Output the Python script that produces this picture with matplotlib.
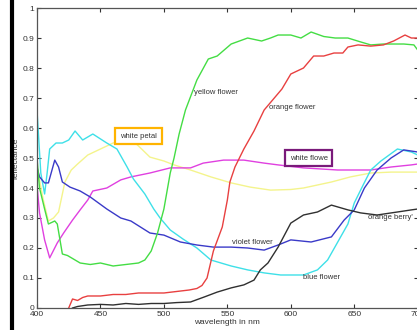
import matplotlib
matplotlib.use("Agg")
import matplotlib.pyplot as plt
from matplotlib.lines import Line2D

plt.rcParams['font.family'] = ['Liberation Sans', 'DejaVu Sans']

# yellow flower (green)
green_x = [400, 402, 406, 409, 414, 416, 420, 424, 428, 434, 442, 450, 460, 470, 480, 485, 490, 495, 500, 505, 508, 512, 517, 526, 535, 542, 553, 566, 577, 584, 590, 600, 608, 616, 626, 635, 645, 655, 663, 673, 689, 697, 700]
green_y = [0.50, 0.40, 0.33, 0.28, 0.29, 0.28, 0.18, 0.175, 0.165, 0.15, 0.145, 0.15, 0.14, 0.145, 0.15, 0.16, 0.19, 0.25, 0.33, 0.45, 0.50, 0.58, 0.66, 0.76, 0.83, 0.84, 0.88, 0.90, 0.89, 0.90, 0.91, 0.91, 0.90, 0.92, 0.905, 0.90, 0.90, 0.887, 0.877, 0.88, 0.88, 0.877, 0.86]

# orange flower (red)
red_x = [425, 428, 432, 436, 440, 450, 460, 470, 480, 490, 500, 510, 520, 526, 530, 534, 539, 546, 550, 552, 556, 563, 571, 579, 585, 593, 600, 610, 618, 626, 634, 641, 645, 653, 663, 673, 681, 690, 695, 700]
red_y = [0.0, 0.03, 0.025, 0.035, 0.04, 0.04, 0.045, 0.045, 0.05, 0.05, 0.05, 0.055, 0.06, 0.065, 0.075, 0.10, 0.19, 0.27, 0.36, 0.42, 0.47, 0.53, 0.59, 0.66, 0.69, 0.73, 0.78, 0.80, 0.84, 0.84, 0.85, 0.85, 0.87, 0.877, 0.873, 0.877, 0.89, 0.91, 0.90, 0.90]

# blue flower (cyan)
cyan_x = [400, 403, 406, 408, 410, 415, 420, 425, 430, 436, 444, 455, 463, 471, 476, 485, 492, 497, 505, 515, 526, 537, 553, 566, 579, 592, 610, 621, 629, 637, 645, 650, 657, 663, 671, 684, 695, 700]
cyan_y = [0.66, 0.45, 0.38, 0.45, 0.53, 0.55, 0.55, 0.56, 0.59, 0.56, 0.58, 0.55, 0.53, 0.47, 0.43, 0.38, 0.33, 0.30, 0.26, 0.23, 0.20, 0.16, 0.14, 0.127, 0.117, 0.11, 0.11, 0.127, 0.16, 0.22, 0.28, 0.35, 0.41, 0.46, 0.49, 0.53, 0.52, 0.51]

# violet flower (blue)
blue_x = [400, 402, 406, 409, 414, 417, 420, 426, 434, 442, 455, 466, 474, 489, 500, 513, 526, 539, 553, 566, 579, 590, 600, 616, 632, 642, 650, 658, 668, 679, 689, 700]
blue_y = [0.47, 0.437, 0.417, 0.417, 0.493, 0.47, 0.42, 0.403, 0.39, 0.37, 0.33, 0.30, 0.29, 0.25, 0.243, 0.22, 0.21, 0.203, 0.203, 0.20, 0.193, 0.21, 0.227, 0.22, 0.237, 0.293, 0.327, 0.40, 0.46, 0.50, 0.527, 0.52]

# white flower (magenta)
mag_x = [400, 402, 406, 410, 416, 421, 428, 434, 440, 444, 455, 466, 474, 489, 505, 521, 531, 547, 563, 579, 590, 610, 637, 663, 679, 695, 700]
mag_y = [0.41, 0.317, 0.227, 0.167, 0.217, 0.25, 0.293, 0.327, 0.36, 0.39, 0.40, 0.427, 0.437, 0.45, 0.467, 0.467, 0.483, 0.493, 0.493, 0.483, 0.477, 0.467, 0.46, 0.46, 0.47, 0.477, 0.48]

# white petal (yellow)
yel_x = [400, 405, 409, 413, 417, 422, 427, 432, 440, 450, 460, 470, 476, 480, 489, 500, 508, 521, 537, 553, 568, 584, 600, 610, 632, 647, 663, 679, 700]
yel_y = [0.47, 0.36, 0.29, 0.30, 0.32, 0.42, 0.46, 0.48, 0.51, 0.53, 0.55, 0.56, 0.555, 0.54, 0.503, 0.49, 0.477, 0.46, 0.437, 0.417, 0.403, 0.393, 0.395, 0.40, 0.42, 0.437, 0.45, 0.453, 0.453]

# orange berry (black)
blk_x = [428, 432, 440, 450, 460, 470, 480, 490, 500, 510, 521, 532, 542, 553, 563, 571, 576, 582, 590, 600, 610, 621, 632, 645, 655, 668, 684, 695, 700]
blk_y = [0.0, 0.005, 0.01, 0.012, 0.01, 0.015, 0.012, 0.015, 0.015, 0.018, 0.02, 0.037, 0.053, 0.067, 0.077, 0.093, 0.127, 0.15, 0.203, 0.283, 0.31, 0.32, 0.343, 0.327, 0.317, 0.31, 0.32, 0.327, 0.33]

xticks = [400, 450, 500, 550, 600, 650, 700]
yticks = [0, 0.1, 0.2, 0.3, 0.4, 0.5, 0.6, 0.7, 0.8, 0.9, 1]
ytick_labels = ['0', '0.1', '0.2', '0.3', '0.4', '0.5', '0.6', '0.7', '0.8', '0.9', '1']

fig = plt.figure(figsize=(4.17, 3.30), dpi=100)
ax = fig.add_axes([0.0887, 0.0667, 0.913, 0.909])

lw = 1.0
ax.plot(yel_x, yel_y, color='#f4f48c', lw=lw)
ax.plot(mag_x, mag_y, color='#e040e0', lw=lw)
ax.plot(cyan_x, cyan_y, color='#3ee0e8', lw=lw)
ax.plot(blue_x, blue_y, color='#3a3ac8', lw=lw)
ax.plot(green_x, green_y, color='#44dd44', lw=lw)
ax.plot(red_x, red_y, color='#e84040', lw=lw)
ax.plot(blk_x, blk_y, color='#303030', lw=lw)

ax.set_xlim(400, 700)
ax.set_ylim(0, 1)
ax.set_xticks(xticks)
ax.set_yticks(yticks)
ax.set_yticklabels(ytick_labels)
ax.tick_params(direction='in', length=3, width=0.8, labelsize=6, colors='#333333',
               top=True, right=True, pad=2)
for s in ax.spines.values():
    s.set_color('#555555')
    s.set_linewidth(0.9)

ax.set_xlabel('wavelength in nm', fontsize=6, color='#333333', labelpad=1)
ax.set_ylabel('reflectance', fontsize=6, color='#333333', labelpad=2)

tk = dict(fontsize=5.5, color='#333333', va='center', ha='left')
ax.text(524, 0.717, 'yellow flower', **tk)
ax.text(583, 0.67, 'orange flower', **tk)
ax.text(554, 0.217, 'violet flower', **tk)
ax.text(610, 0.103, 'blue flower', **tk)
ax.text(661, 0.30, "orange berry'", **tk)
ax.text(480, 0.573, 'white petal', fontsize=5.5, color='#333333', va='center', ha='center',
        bbox=dict(boxstyle='square,pad=0.6', fc='white', ec='#ffb400', lw=1.6))
ax.text(614, 0.50, 'white flowe', fontsize=5.5, color='#333333', va='center', ha='center',
        bbox=dict(boxstyle='square,pad=0.55', fc='white', ec='#7a1a7a', lw=1.6))

# dark border at the left edge of the screenshot
fig.add_artist(Line2D([0.028, 0.028], [0, 1], transform=fig.transFigure, color='black', lw=3))

fig.savefig('out.png', dpi=100)
